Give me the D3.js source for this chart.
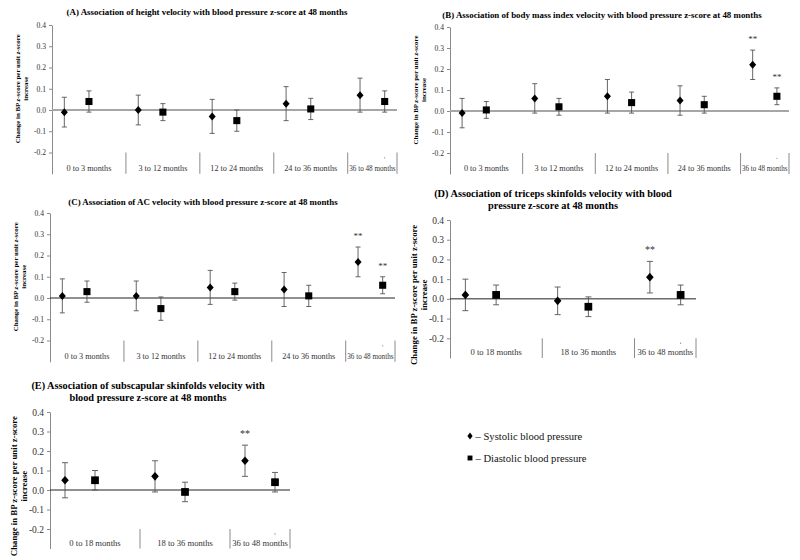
<!DOCTYPE html>
<html lang="en">
<head>
<meta charset="utf-8" />
<title>Velocity and blood pressure</title>
<script src="https://cdn.jsdelivr.net/npm/d3@7"></script>
<style>
    body { margin: 0; background: #fff; }
    svg { font-family: "Liberation Serif", "Times New Roman", serif; }
    .title { font-weight: bold; text-anchor: middle; }
    .ylab { font-weight: bold; text-anchor: middle; }
    .cat { text-anchor: middle; }
</style>
</head>
<body>
<svg width="800" height="560"></svg>
<script>
    // category labels
    var catsFive = ["0 to 3 months", "3 to 12 months", "12 to 24 months", "24 to 36 months", "36 to 48 months"];
    var catsThree = ["0 to 18 months", "18 to 36 months", "36 to 48 months"];

    // rows: [estimate, lower CI, upper CI, significant]
    var sbpA = [[-0.01, -0.08, 0.06, 0], [0.00, -0.07, 0.07, 0], [-0.03, -0.11, 0.05, 0], [0.03, -0.05, 0.11, 0], [0.07, -0.01, 0.15, 0]];
    var dbpA = [[0.04, -0.01, 0.09, 0], [-0.01, -0.05, 0.03, 0], [-0.05, -0.10, 0.00, 0], [0.005, -0.045, 0.055, 0], [0.04, -0.01, 0.09, 0]];

    var sbpB = [[-0.01, -0.08, 0.06, 0], [0.06, -0.01, 0.13, 0], [0.07, -0.01, 0.15, 0], [0.05, -0.02, 0.12, 0], [0.22, 0.15, 0.29, 1]];
    var dbpB = [[0.005, -0.035, 0.045, 0], [0.02, -0.02, 0.06, 0], [0.04, -0.01, 0.09, 0], [0.03, -0.01, 0.07, 0], [0.07, 0.03, 0.11, 1]];

    var sbpC = [[0.01, -0.07, 0.09, 0], [0.01, -0.06, 0.08, 0], [0.05, -0.03, 0.13, 0], [0.04, -0.04, 0.12, 0], [0.17, 0.10, 0.24, 1]];
    var dbpC = [[0.03, -0.02, 0.08, 0], [-0.05, -0.105, 0.005, 0], [0.03, -0.01, 0.07, 0], [0.01, -0.04, 0.06, 0], [0.06, 0.02, 0.10, 1]];

    var sbpD = [[0.02, -0.06, 0.10, 0], [-0.01, -0.08, 0.06, 0], [0.11, 0.03, 0.19, 1]];
    var dbpD = [[0.02, -0.03, 0.07, 0], [-0.04, -0.09, 0.01, 0], [0.02, -0.03, 0.07, 0]];

    var sbpE = [[0.05, -0.04, 0.14, 0], [0.07, -0.01, 0.15, 0], [0.15, 0.07, 0.23, 1]];
    var dbpE = [[0.05, 0.00, 0.10, 0], [-0.01, -0.06, 0.04, 0], [0.04, -0.01, 0.09, 0]];

    var titles = {
        A: ["(A) Association of height velocity with blood pressure z-score at 48 months"],
        B: ["(B) Association of body mass index velocity with blood pressure z-score at 48 months"],
        C: ["(C) Association of AC velocity with blood pressure z-score at 48 months"],
        D: ["(D) Association of triceps skinfolds velocity with blood", "pressure z-score at 48 months"],
        E: ["(E) Association of subscapular skinfolds velocity with", "blood pressure z-score at 48 months"]
    };
    var yTicks = [-0.2, -0.1, 0.0, 0.1, 0.2, 0.3, 0.4];

    var svg = d3.select("svg");

    // squat diamond (the d3 one is too tall)
    function rhombus(w, h) {
        return {
            draw: function (ctx) {
                ctx.moveTo(0, -h); ctx.lineTo(w, 0); ctx.lineTo(0, h); ctx.lineTo(-w, 0); ctx.closePath();
            }
        };
    }

    // panel layout (pixels)
    var panels = [
        { key: "A", cats: catsFive, sbp: sbpA, dbp: dbpA, left: 52, right: 397, top: 25, bottom: 173.75, titleX: 207, titleY: 15, big: false, zeroGrey: true },
        { key: "B", cats: catsFive, sbp: sbpB, dbp: dbpB, left: 450, right: 789, top: 27, bottom: 174, titleX: 602, titleY: 18, big: false, zeroGrey: true },
        { key: "C", cats: catsFive, sbp: sbpC, dbp: dbpC, left: 50, right: 395, top: 213, bottom: 361.75, titleX: 203, titleY: 205, big: false, zeroGrey: false },
        { key: "D", cats: catsThree, sbp: sbpD, dbp: dbpD, left: 450, right: 696, top: 220, bottom: 358, titleX: 553, titleY: 197, big: true, zeroGrey: false },
        { key: "E", cats: catsThree, sbp: sbpE, dbp: dbpE, left: 50, right: 290, top: 412, bottom: 548.5, titleX: 148, titleY: 389, big: true, zeroGrey: false }
    ];

    panels.forEach(drawPanel);

    function drawPanel(p) {
        var g = svg.append("g");
        var nSlots = p.cats.length * 3 - 1;   // 3 slots per group, last one cut off

        var x = d3.scaleLinear().domain([0, nSlots]).range([p.left, p.right]);
        var y = d3.scaleLinear().domain([-0.3, 0.4]).range([p.bottom, p.top]);

        //title
        var t = g.append("text").attr("class", "title")
            .attr("x", p.titleX).attr("y", p.titleY)
            .style("font-size", p.big ? "10.3px" : "8.9px");
        titles[p.key].forEach(function (line, i) {
            t.append("tspan").attr("x", p.titleX).attr("dy", i === 0 ? 0 : "1.15em").text(line);
        });

        //y axis
        var axis = g.append("g")
            .attr("transform", "translate(" + p.left + ",0)")
            .call(d3.axisLeft(y).tickValues(yTicks).tickSizeInner(3).tickSizeOuter(0)
                .tickFormat(function (d) { return d.toFixed(1); }));
        axis.select(".domain").attr("stroke", "#8a8a8a");
        axis.selectAll(".tick line").attr("stroke", "#8a8a8a");
        axis.selectAll(".tick text")
            .attr("fill", "#333")
            .style("font-family", "Liberation Serif, serif")
            .style("font-size", p.big ? "9.5px" : "7.6px");

        //y label
        var lx = p.left - (p.big ? 33 : 32);
        var ly = p.big ? y(0.02) : y(0.1);
        var lab = g.append("text").attr("class", "ylab")
            .attr("transform", "translate(" + lx + "," + ly + ") rotate(-90)")
            .style("font-size", p.big ? "8.8px" : "6.9px");
        var l1 = lab.append("tspan").attr("x", 0).attr("dy", 0);
        l1.append("tspan").text("Change in BP ");
        l1.append("tspan").style("font-style", p.big ? "normal" : "italic").text("z");
        l1.append("tspan").text("-score per unit ");
        l1.append("tspan").style("font-style", p.big ? "normal" : "italic").text("z");
        l1.append("tspan").text("-score");
        lab.append("tspan").attr("x", 0).attr("dy", "1.15em").text("increase");

        //zero line
        g.append("line")
            .attr("x1", p.left).attr("x2", p.right)
            .attr("y1", y(0)).attr("y2", y(0))
            .attr("stroke", p.zeroGrey ? "#a6a6a6" : "#222")
            .attr("stroke-width", p.zeroGrey ? 2 : 1);

        //category separators + labels
        var seps = d3.range(1, p.cats.length).map(function (i) { return i * 3; }).concat([nSlots]);
        g.selectAll(".sep").data(seps).enter().append("line")
            .attr("x1", function (d) { return x(d); }).attr("x2", function (d) { return x(d); })
            .attr("y1", y(-0.2)).attr("y2", y(-0.3))
            .attr("stroke", "#8a8a8a");

        g.selectAll(".cat").data(p.cats).enter().append("text")
            .attr("class", "cat")
            .attr("x", function (d, i) { return (x(i * 3) + x(Math.min(i * 3 + 3, nSlots))) / 2; })
            .attr("y", y(-0.3) - 3)
            .style("font-size", p.big ? "8.6px" : "8.2px")
            .attr("fill", "#333")
            .text(function (d) { return d; })
            .each(function (d, i) {
                // squeeze the label of the cut-off last group
                var room = x(Math.min(i * 3 + 3, nSlots)) - x(i * 3) - 3;
                if (this.getComputedTextLength() > room) {
                    d3.select(this).attr("textLength", room).attr("lengthAdjust", "spacingAndGlyphs");
                }
            });

        //stray dot near last label
        g.append("circle")
            .attr("cx", x(nSlots - 0.5)).attr("cy", y(-0.225))
            .attr("r", 0.6).attr("fill", "#777");

        //error bars + markers
        var series = [
            { rows: p.sbp, off: 0.5, type: "diamond" },
            { rows: p.dbp, off: 1.5, type: "square" }
        ];
        var cap = p.big ? 3 : 2.5;
        series.forEach(function (s) {
            var grp = g.append("g");
            var pts = s.rows.map(function (r, i) { return { x: x(i * 3 + s.off), v: r[0], lo: r[1], hi: r[2], sig: r[3] }; });

            grp.selectAll(".bar").data(pts).enter().append("line")
                .attr("x1", function (d) { return d.x; }).attr("x2", function (d) { return d.x; })
                .attr("y1", function (d) { return y(d.lo); }).attr("y2", function (d) { return y(d.hi); })
                .attr("stroke", "#555").attr("stroke-width", 0.9);
            ["lo", "hi"].forEach(function (k) {
                grp.selectAll(".cap" + k).data(pts).enter().append("line")
                    .attr("x1", function (d) { return d.x - cap; }).attr("x2", function (d) { return d.x + cap; })
                    .attr("y1", function (d) { return y(d[k]); }).attr("y2", function (d) { return y(d[k]); })
                    .attr("stroke", "#555").attr("stroke-width", 0.9);
            });

            var sym = s.type === "diamond"
                ? d3.symbol().type(p.big ? rhombus(3.8, 4.3) : rhombus(3.5, 4))
                : d3.symbol().type(d3.symbolSquare).size(p.big ? 60 : 50);
            grp.selectAll(".pt").data(pts).enter().append("path")
                .attr("d", sym)
                .attr("transform", function (d) { return "translate(" + d.x + "," + y(d.v) + ")"; })
                .attr("fill", "#000");

            grp.selectAll(".star").data(pts.filter(function (d) { return d.sig; })).enter().append("text")
                .attr("x", function (d) { return d.x; })
                .attr("y", function (d) { return y(d.hi) - 8; })
                .attr("text-anchor", "middle")
                .style("font-size", p.big ? "10px" : "9px")
                .attr("fill", "#333")
                .text("**");
        });
    }

    //legend
    var legend = [
        { label: "\u2013 Systolic blood pressure", sym: d3.symbol().type(rhombus(2.6, 3.6)) },
        { label: "\u2013 Diastolic blood pressure", sym: d3.symbol().type(d3.symbolSquare).size(24) }
    ];
    var lg = svg.append("g").selectAll("g").data(legend).enter().append("g")
        .attr("transform", function (d, i) { return "translate(470," + (436 + i * 22) + ")"; });
    lg.append("path").attr("d", function (d) { return d.sym(); }).attr("fill", "#000");
    lg.append("text").attr("x", 5.5).attr("y", 4).style("font-size", "10.6px").attr("fill", "#111")
        .text(function (d) { return d.label; });
</script>
</body>
</html>
